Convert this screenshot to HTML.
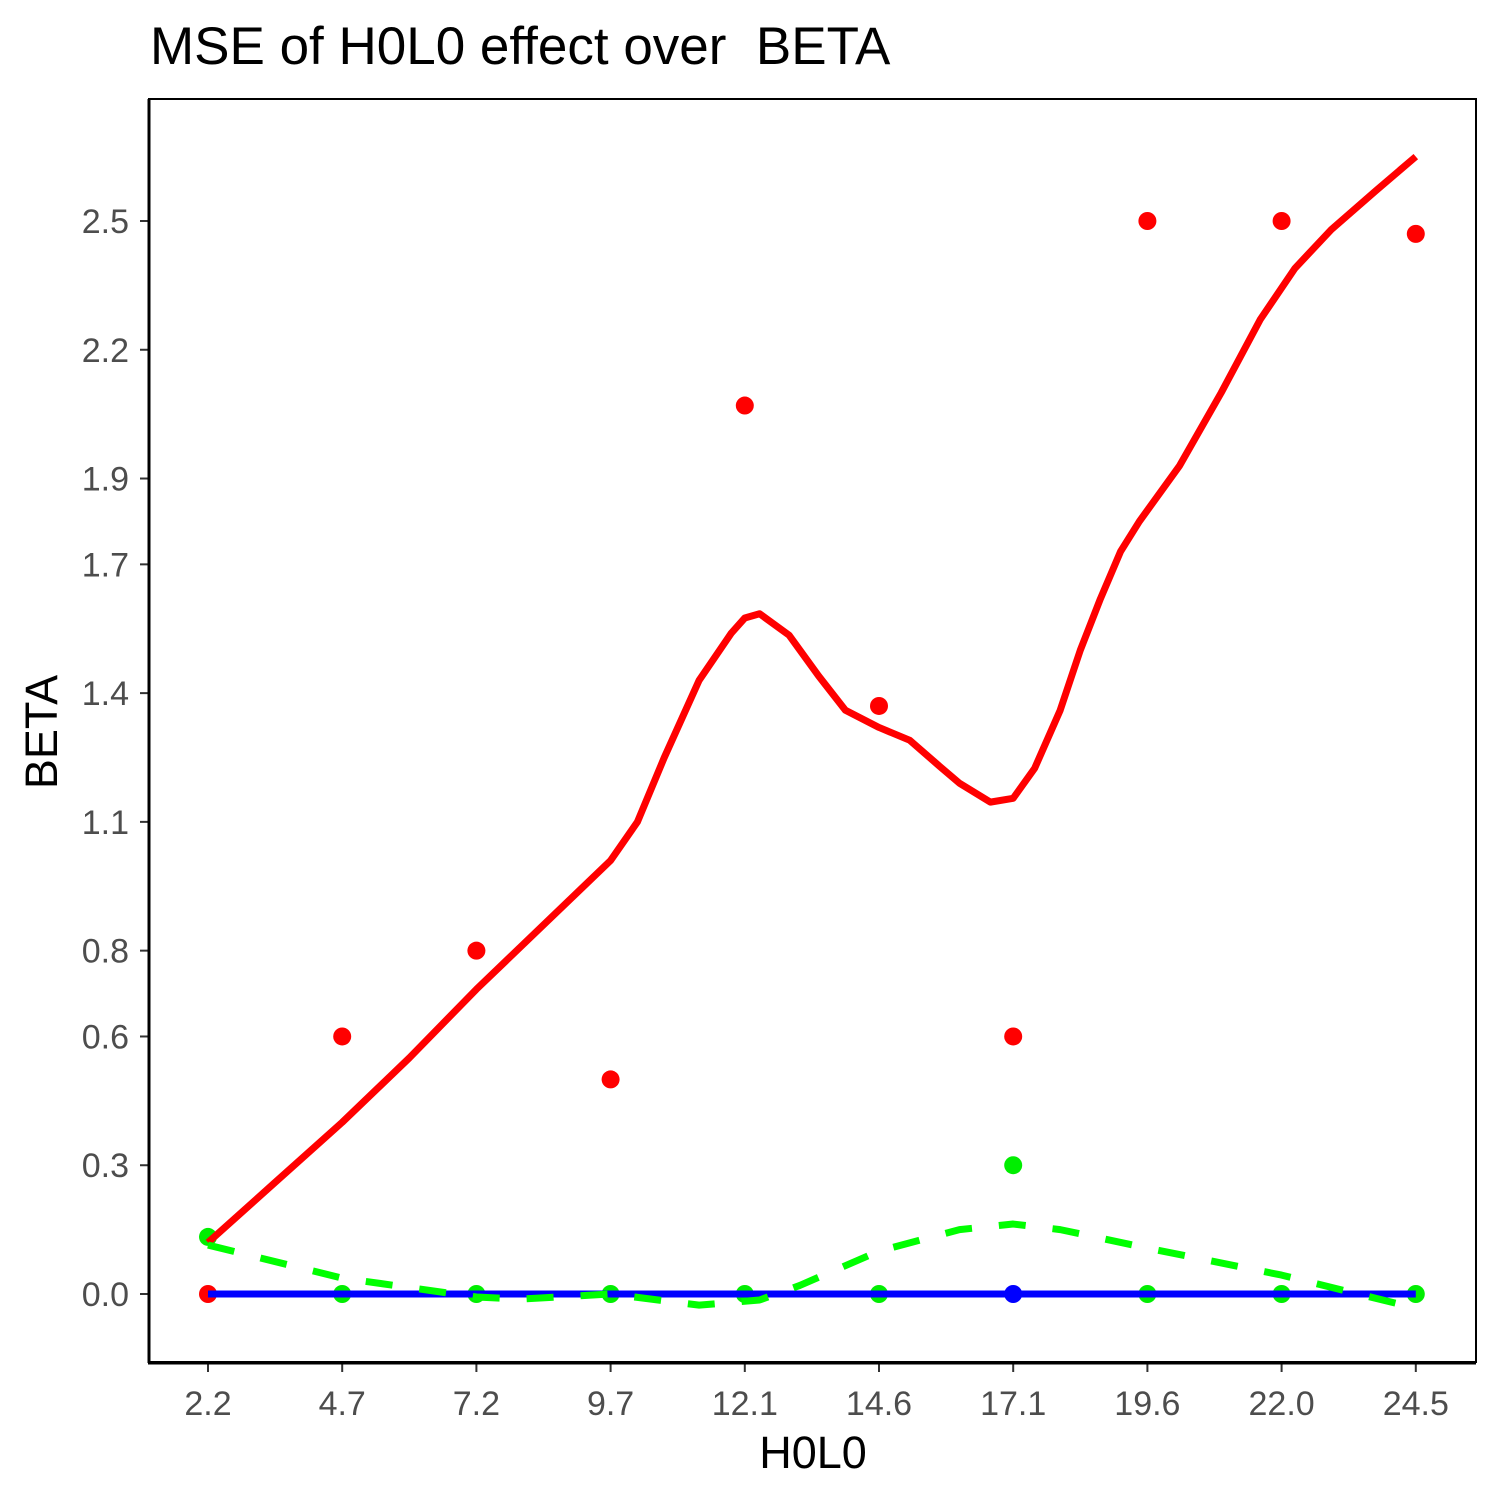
<!DOCTYPE html>
<html><head><meta charset="utf-8"><style>
body{margin:0;background:#fff}
svg text{font-family:"Liberation Sans",sans-serif}
</style></head><body>
<svg id="chart" width="1500" height="1500" viewBox="0 0 1500 1500">
<rect x="0" y="0" width="1500" height="1500" fill="#fff"/>
<text x="150" y="64" font-size="53" fill="#000">MSE of H0L0 effect over&#160; BETA</text>
<rect x="149" y="99" width="1327" height="1263" fill="none" stroke="#000" stroke-width="2"/>
<g id="yticks"></g><g id="xticks"></g>
<g id="marks"></g>
<line x1="149" y1="99" x2="149" y2="1363" stroke="#000" stroke-width="3"/>
<line x1="148" y1="1363" x2="1476" y2="1363" stroke="#000" stroke-width="3"/>
<text x="813" y="1468" font-size="45" text-anchor="middle">H0L0</text>
<text transform="translate(57,732) rotate(-90)" font-size="45" text-anchor="middle">BETA</text>
</svg>
<script>
const xLabels=["2.2","4.7","7.2","9.7","12.1","14.6","17.1","19.6","22.0","24.5"];
const yTicks=[0,0.3,0.6,0.8,1.1,1.4,1.7,1.9,2.2,2.5];
const redVals=[0,0.6,0.8,0.5,2.07,1.37,0.6,2.5,2.5,2.47];
const greenVals=[0.133,0,0,0,0,0,0.3,0,0,0];
const blueVals=[0,0,0,0,0,0,0,0,0,0];
const redCurveX=[0,0.5,1,1.5,2,2.5,3,3.2,3.4,3.66,3.9,4,4.11,4.33,4.55,4.75,5,5.23,5.45,5.6,5.83,6,6.16,6.35,6.5,6.65,6.8,6.94,7.24,7.55,7.84,8.1,8.37,8.7,9];
const redCurveY=[0.12,0.26,0.4,0.55,0.71,0.86,1.01,1.1,1.25,1.43,1.54,1.575,1.585,1.535,1.44,1.36,1.32,1.29,1.23,1.19,1.146,1.155,1.225,1.36,1.5,1.62,1.73,1.80,1.93,2.1,2.27,2.39,2.48,2.57,2.65];
const greenCurveX=[0,1,2,2.32,3,3.66,4.11,4.41,5,5.6,6,6.35,7,8,9];
const greenCurveY=[0.114,0.037,-0.007,-0.012,0,-0.026,-0.014,0.02,0.10,0.15,0.163,0.15,0.107,0.044,-0.033];
const X=i=>208+i*134.2;
const Y=v=>1294-v*429.2;
const NS="http://www.w3.org/2000/svg";
function mk(t,a,p){const e=document.createElementNS(NS,t);for(const k in a)e.setAttribute(k,a[k]);p.appendChild(e);return e;}
const yt=document.getElementById('yticks'),xt=document.getElementById('xticks'),m=document.getElementById('marks');
yTicks.forEach(v=>{
 const l=mk('line',{x1:140,x2:149,y1:Y(v),y2:Y(v),stroke:'#333','stroke-width':2},yt);
 
 
 const t=mk('text',{x:129,y:Y(v)+12,'font-size':34,fill:'#4d4d4d','text-anchor':'end'},yt);
 t.textContent=v.toFixed(1);
 
 
});
xLabels.forEach((s,i)=>{
 const l=mk('line',{x1:X(i),x2:X(i),y1:1363,y2:1372,stroke:'#333','stroke-width':2},xt);
 
 
 const t=mk('text',{x:X(i),y:1415,'font-size':34,fill:'#4d4d4d','text-anchor':'middle'},xt);
 t.textContent=s;
 
 
});
redVals.forEach((v,i)=>{
 const c=mk('circle',{cx:X(i),cy:Y(v),r:9,fill:'#ff0000'},m);
 
 
});
greenVals.forEach((v,i)=>{
 const c=mk('circle',{cx:X(i),cy:Y(v),r:9,fill:'#00ee00'},m);
 
 
});
const bp=mk('circle',{cx:X(6),cy:Y(blueVals[6]),r:9,fill:'#0000ff'},m);


const rl=mk('polyline',{points:redCurveX.map((x,i)=>X(x)+','+Y(redCurveY[i])).join(' '),fill:'none',stroke:'#ff0000','stroke-width':7,'stroke-linejoin':'round'},m);


const bl=mk('polyline',{points:blueVals.map((v,i)=>X(i)+','+Y(v)).join(' '),fill:'none',stroke:'#0000ff','stroke-width':7},m);


const gl=mk('polyline',{points:greenCurveX.map((x,i)=>X(x)+','+Y(greenCurveY[i])).join(' '),fill:'none',stroke:'#00ff00','stroke-width':7,'stroke-dasharray':'27 27','stroke-linejoin':'round'},m);


</script>
</body></html>
